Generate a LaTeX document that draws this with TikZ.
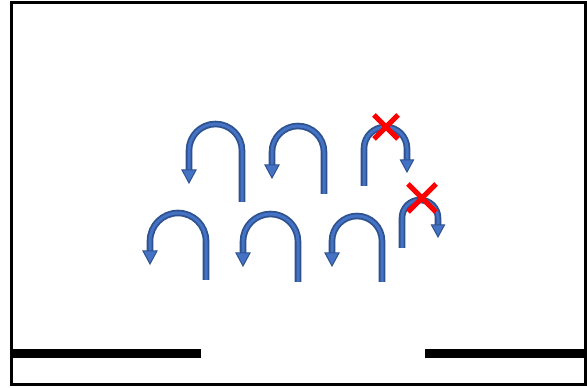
\documentclass[tikz,border=0pt]{standalone}
\definecolor{uout}{HTML}{2F528F}
\definecolor{uin}{HTML}{4472C4}
\tikzset{
  uarrow/.style={draw=uout, line width=1.8pt, double=uin, double distance=3pt, line cap=butt},
  uhead/.style={draw=uout, fill=uin, line width=1pt, line join=miter},
  bar/.style={draw=black, line width=9pt},
  frame/.style={draw=black, line width=3pt},
  cross/.style={draw=red, line width=5pt}
}
% cx cy r bottom tip   (image coordinates, y downwards)
\newcommand\uturnleft[5]{%
  \draw[uarrow] ({#1+#3},{388-#4}) -- ({#1+#3},{388-#2}) arc[start angle=0,end angle=180,radius=#3] -- ({#1-#3},{388-(#5-12)});
  \filldraw[uhead] ({#1-#3-7},{388-(#5-13)}) -- ({#1-#3+7},{388-(#5-13)}) -- ({#1-#3},{388-#5}) -- cycle;}
\newcommand\uturnright[5]{%
  \draw[uarrow] ({#1-#3},{388-#4}) -- ({#1-#3},{388-#2}) arc[start angle=180,end angle=0,radius=#3] -- ({#1+#3},{388-(#5-11)});
  \filldraw[uhead] ({#1+#3-6.5},{388-(#5-12)}) -- ({#1+#3+6.5},{388-(#5-12)}) -- ({#1+#3},{388-#5}) -- cycle;}
% centre x, centre y, half size
\newcommand\redcross[3]{%
  \draw[cross] ({#1-#3},{388-(#2-#3)}) -- ({#1+#3},{388-(#2+#3)});
  \draw[cross] ({#1-#3},{388-(#2+#3)}) -- ({#1+#3},{388-(#2-#3)});}
\begin{document}
\begin{tikzpicture}[x=1pt,y=1pt]
\useasboundingbox (0,0) rectangle (587,388);
\fill[white] (0,0) rectangle (587,388);
\draw[frame] (11,{388-3}) rectangle (585,{388-385});
\draw[bar] (12,{388-354}) -- (201,{388-354});
\draw[bar] (425,{388-354}) -- (584,{388-354});
% top row
\uturnleft{215.5}{150.5}{26.5}{202}{183}
\uturnleft{298}{152}{26}{194}{178}
\uturnright{385.5}{148.5}{21.5}{186}{172}
% bottom row
\uturnleft{178}{241}{28}{280}{264}
\uturnleft{270.5}{241.5}{27.5}{282}{266}
\uturnleft{357}{241}{25}{282}{266}
\uturnright{420}{218}{18}{248}{237}
% crosses
\redcross{386}{127}{12}
\redcross{422}{198}{14}
\end{tikzpicture}
\end{document}
